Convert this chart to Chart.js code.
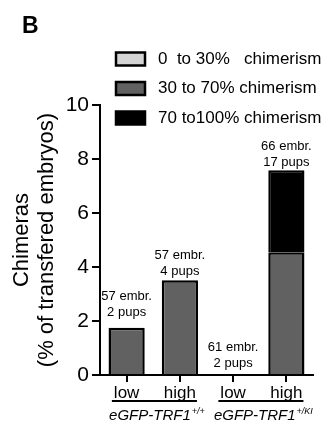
<!DOCTYPE html>
<html>
<head>
<meta charset="utf-8">
<script src="https://cdn.jsdelivr.net/npm/chart.js@4/dist/chart.umd.min.js"></script>
<style>
  html, body { margin: 0; padding: 0; background: #fff; }
</style>
</head>
<body>
<canvas id="myChart" width="322" height="425"></canvas>
<script>
// data
var categories = ["low", "high", "low", "high"];
var groupNames = ["eGFP-TRF1", "eGFP-TRF1"];
var groupSups = ["+/+", "+/KI"];
var seriesNames = ["0  to 30%   chimerism", "30 to 70% chimerism", "70 to100% chimerism"];
var low30 = [null, null, null, null];
var mid30to70 = [1.75, 3.51, null, 4.55];
var high70to100 = [null, null, null, 3.03];
var embryos = [57, 57, 61, 66];
var pups = [2, 4, 2, 17];
var yTicks = [0, 2, 4, 6, 8, 10];

var FONT = "'Liberation Sans', Arial, sans-serif";
var barColors = ["#d4d4d4", "#616161", "#000000"];
var noteGap = [15, 9, 12, 8];

var extras = {
    id: "extras",
    afterDraw: function (chart) {
        var c = chart.ctx;
        var x = chart.scales.x, y = chart.scales.y;
        c.save();
        c.fillStyle = "#000";
        c.strokeStyle = "#000";

        // panel letter
        c.font = "bold 23px " + FONT;
        c.textAlign = "left";
        c.textBaseline = "alphabetic";
        c.fillText("B", 22, 33);

        // legend
        c.font = "17px " + FONT;
        c.textBaseline = "middle";
        chart.data.datasets.forEach(function (ds, i) {
            var cy = 59 + i * 29.5;
            c.fillStyle = ds.backgroundColor;
            c.fillRect(116, cy - 6.5, 29, 13);
            c.lineWidth = 2.5;
            c.strokeRect(116, cy - 6.5, 29, 13);
            c.fillStyle = "#000";
            c.fillText(ds.label, 158, cy);
        });

        // y axis title
        c.save();
        c.translate(0, 240);
        c.rotate(-Math.PI / 2);
        c.textAlign = "center";
        c.font = "22px " + FONT;
        c.fillText("Chimeras", 0, 22);
        c.fillText("(% of transfered embryos)", 0, 47);
        c.restore();

        // numbers above bars
        c.font = "13px " + FONT;
        c.textAlign = "center";
        categories.forEach(function (cat, i) {
            var total = (low30[i] || 0) + (mid30to70[i] || 0) + (high70to100[i] || 0);
            var px = x.getPixelForValue(i);
            var top = y.getPixelForValue(total) - noteGap[i];
            c.fillText(pups[i] + " pups", px, top);
            c.fillText(embryos[i] + " embr.", px, top - 16);
        });

        // group underlines and names
        groupNames.forEach(function (name, g) {
            var a = g * 2, b = g * 2 + 1;
            c.font = "17px " + FONT;
            var x0 = x.getPixelForValue(a) - c.measureText(categories[a]).width / 2 - 2;
            var x1 = x.getPixelForValue(b) + c.measureText(categories[b]).width / 2 + 1;
            c.lineWidth = 2;
            c.beginPath();
            c.moveTo(x0, 401);
            c.lineTo(x1, 401);
            c.stroke();

            c.font = "italic 15px " + FONT;
            var w1 = c.measureText(name).width;
            c.font = "italic 9px " + FONT;
            var w2 = c.measureText(groupSups[g]).width;
            var start = (x0 + x1) / 2 - (w1 + w2) / 2 + 2;
            c.textAlign = "left";
            c.font = "italic 15px " + FONT;
            c.fillText(name, start, 416);
            c.font = "italic 9px " + FONT;
            c.fillText(groupSups[g], start + w1 + 1, 411);
        });
        c.restore();
    }
};

new Chart("myChart", {
    type: "bar",
    data: {
        labels: categories,
        datasets: [
            { label: seriesNames[0], data: low30, backgroundColor: barColors[0], borderColor: "#000", borderWidth: 2.5 },
            { label: seriesNames[1], data: mid30to70, backgroundColor: barColors[1], borderColor: "#000", borderWidth: 2.5 },
            { label: seriesNames[2], data: high70to100, backgroundColor: barColors[2], borderColor: "#000", borderWidth: 2.5 }
        ]
    },
    options: {
        responsive: false,
        animation: false,
        layout: { padding: { top: 105, right: 9, left: 0, bottom: 0 } },
        datasets: { bar: { barPercentage: 0.85, categoryPercentage: 0.8 } },
        plugins: { legend: { display: false }, tooltip: { enabled: false } },
        scales: {
            x: {
                stacked: true,
                grid: { offset: false, drawOnChartArea: false, color: "#000", lineWidth: 2, tickLength: 7 },
                border: { color: "#000", width: 2 },
                ticks: { color: "#000", font: { size: 17, family: FONT }, padding: 1, maxRotation: 0 },
                afterFit: function (s) { s.height = 50; }
            },
            y: {
                stacked: true,
                min: 0,
                max: 10,
                afterBuildTicks: function (s) { s.ticks = yTicks.map(function (v) { return { value: v }; }); },
                grid: { drawOnChartArea: false, color: "#000", lineWidth: 2, tickLength: 8 },
                border: { color: "#000", width: 2 },
                ticks: { color: "#000", font: { size: 21, family: FONT }, padding: 3 },
                afterFit: function (s) { s.width = 100; }
            }
        }
    },
    plugins: [extras]
});
</script>
</body>
</html>
